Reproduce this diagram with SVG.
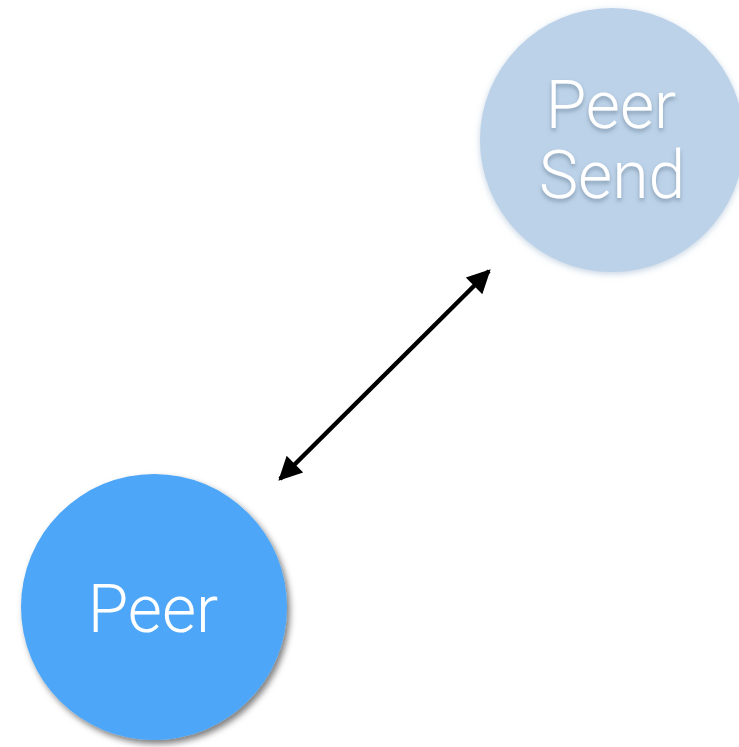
<svg xmlns="http://www.w3.org/2000/svg" width="739" height="747" viewBox="0 0 739 747">
  <style>
    .label { font-family: Roboto, "Liberation Sans", "DejaVu Sans", sans-serif; font-weight: 300; font-size: 66px; fill: #ffffff; text-anchor: middle; }
    .link { stroke: #000000; stroke-width: 4.5; fill: none; }
  </style>
  <defs>
    <filter id="circleShadow" x="-20%" y="-20%" width="140%" height="140%">
      <feDropShadow dx="3" dy="4" stdDeviation="3" flood-color="#000000" flood-opacity="0.5"/>
    </filter>
    <filter id="softGlow" x="-20%" y="-20%" width="140%" height="140%">
      <feDropShadow dx="0" dy="2" stdDeviation="3" flood-color="#9fb7d0" flood-opacity="0.6"/>
    </filter>
    <filter id="textShadow" x="-20%" y="-20%" width="140%" height="160%">
      <feDropShadow dx="0" dy="3" stdDeviation="2" flood-color="#5a6f87" flood-opacity="0.55"/>
    </filter>
    <marker id="arrowHead" viewBox="0 0 10 10" refX="9" refY="5" markerWidth="5.8" markerHeight="5.2" markerUnits="strokeWidth" orient="auto-start-reverse">
      <path d="M0,0 L10,5 L0,10 z" fill="#000000"/>
    </marker>
  </defs>
  <rect width="739" height="747" fill="#ffffff"/>

  <g id="peer-send">
    <circle cx="612" cy="140" r="132" fill="#bcd2e8" filter="url(#softGlow)"/>
    <g filter="url(#textShadow)">
      <text class="label" x="611" y="128">Peer</text>
      <text class="label" x="612" y="198">Send</text>
    </g>
  </g>

  <g id="peer">
    <circle cx="154" cy="607" r="133" fill="#4da6f7" filter="url(#circleShadow)"/>
    <text class="label" x="153" y="632">Peer</text>
  </g>

  <g id="connectors">
    <line class="link" x1="280" y1="479" x2="489" y2="271" marker-start="url(#arrowHead)" marker-end="url(#arrowHead)"/>
  </g>
</svg>
